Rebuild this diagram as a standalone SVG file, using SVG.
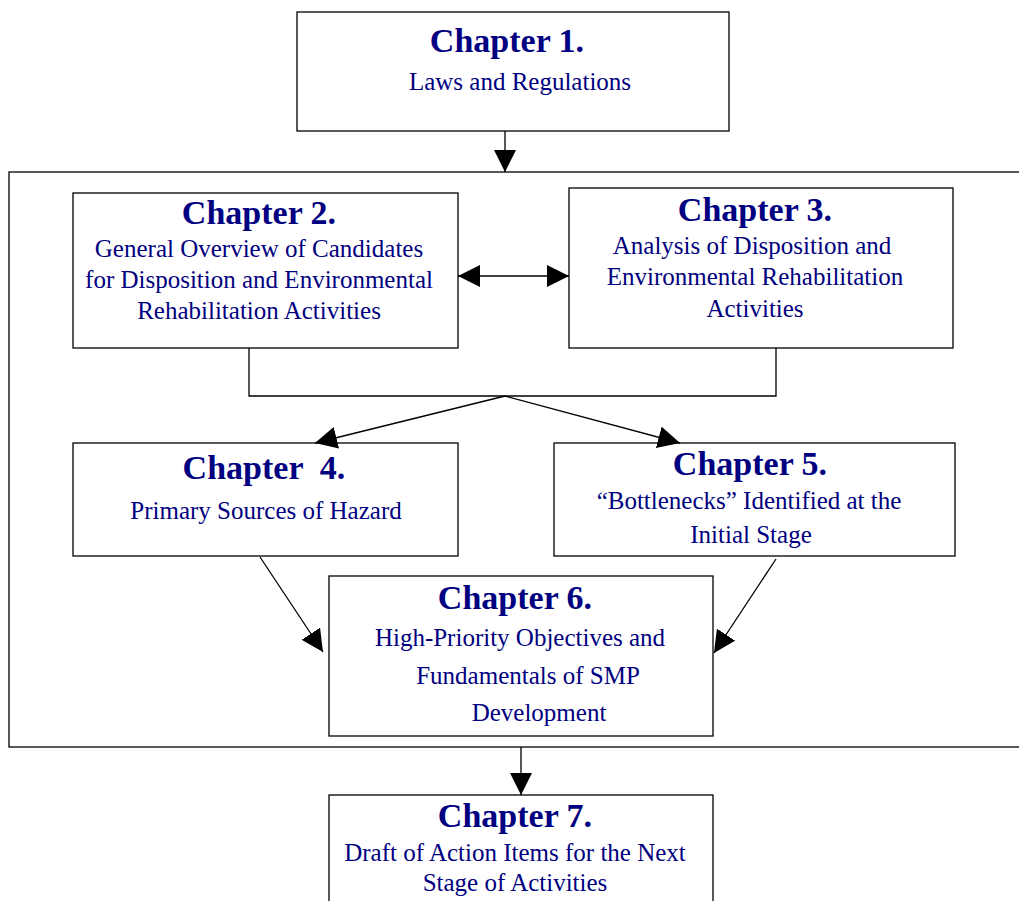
<svg xmlns="http://www.w3.org/2000/svg" width="1019" height="901" viewBox="0 0 1019 901">
<style>
.box{fill:#fff;stroke:#000;stroke-width:1.3}
.t{font-family:"Liberation Serif",serif;font-weight:bold;font-size:34px;fill:#000080;text-anchor:middle}
.b{font-family:"Liberation Serif",serif;font-size:25px;fill:#000080;text-anchor:middle}
.c{fill:none;stroke:#000;stroke-width:1.3}
</style>
<defs>
<marker id="ah" markerUnits="userSpaceOnUse" markerWidth="22" markerHeight="22" refX="20" refY="10" orient="auto-start-reverse" viewBox="0 0 20 20">
<path d="M0,0 L20,10 L0,20 Z" fill="#000"/>
</marker>
</defs>
<rect x="9" y="172" width="1020" height="575" class="box"/>
<g id="ch1"><rect x="297" y="12" width="432" height="119" class="box"/>
<text x="507" y="52" class="t">Chapter 1.</text>
<text x="520" y="90" class="b">Laws and Regulations</text></g>
<g id="ch2"><rect x="73" y="193" width="385" height="155" class="box"/>
<text x="259" y="224" class="t">Chapter 2.</text>
<text x="259" y="257" class="b">General Overview of Candidates</text>
<text x="259" y="288" class="b">for Disposition and Environmental</text>
<text x="259" y="319" class="b">Rehabilitation Activities</text></g>
<g id="ch3"><rect x="569" y="188" width="384" height="160" class="box"/>
<text x="755" y="221" class="t">Chapter 3.</text>
<text x="752" y="254" class="b">Analysis of Disposition and</text>
<text x="755" y="285" class="b">Environmental Rehabilitation</text>
<text x="755" y="317" class="b">Activities</text></g>
<g id="ch4"><rect x="73" y="443" width="385" height="113" class="box"/>
<text x="264" y="479" class="t" xml:space="preserve">Chapter  4.</text>
<text x="266" y="519" class="b">Primary Sources of Hazard</text></g>
<g id="ch5"><rect x="554" y="443" width="401" height="113" class="box"/>
<text x="750" y="475" class="t">Chapter 5.</text>
<text x="749" y="509" class="b">“Bottlenecks” Identified at the</text>
<text x="751" y="543" class="b">Initial Stage</text></g>
<g id="ch6"><rect x="329" y="576" width="384" height="160" class="box"/>
<text x="515" y="609" class="t">Chapter 6.</text>
<text x="520" y="646" class="b">High-Priority Objectives and</text>
<text x="528" y="684" class="b">Fundamentals of SMP</text>
<text x="539" y="721" class="b">Development</text></g>
<g id="ch7"><rect x="329" y="795" width="384" height="120" class="box"/>
<text x="515" y="827" class="t">Chapter 7.</text>
<text x="515" y="861" class="b">Draft of Action Items for the Next</text>
<text x="515" y="891" class="b">Stage of Activities</text></g>
<g id="connectors">
<line x1="505" y1="131" x2="505" y2="172" class="c" marker-end="url(#ah)"/>
<line x1="458" y1="276" x2="569" y2="276" class="c" marker-start="url(#ah)" marker-end="url(#ah)"/>
<polyline points="249,348 249,396 776,396 776,348" class="c"/>
<line x1="505" y1="396" x2="315" y2="443" class="c" marker-end="url(#ah)"/>
<line x1="505" y1="396" x2="680" y2="443" class="c" marker-end="url(#ah)"/>
<line x1="260" y1="557" x2="323" y2="652" class="c" marker-end="url(#ah)"/>
<line x1="776" y1="559" x2="714" y2="653" class="c" marker-end="url(#ah)"/>
<line x1="521" y1="747" x2="521" y2="795" class="c" marker-end="url(#ah)"/>
</g>
</svg>
